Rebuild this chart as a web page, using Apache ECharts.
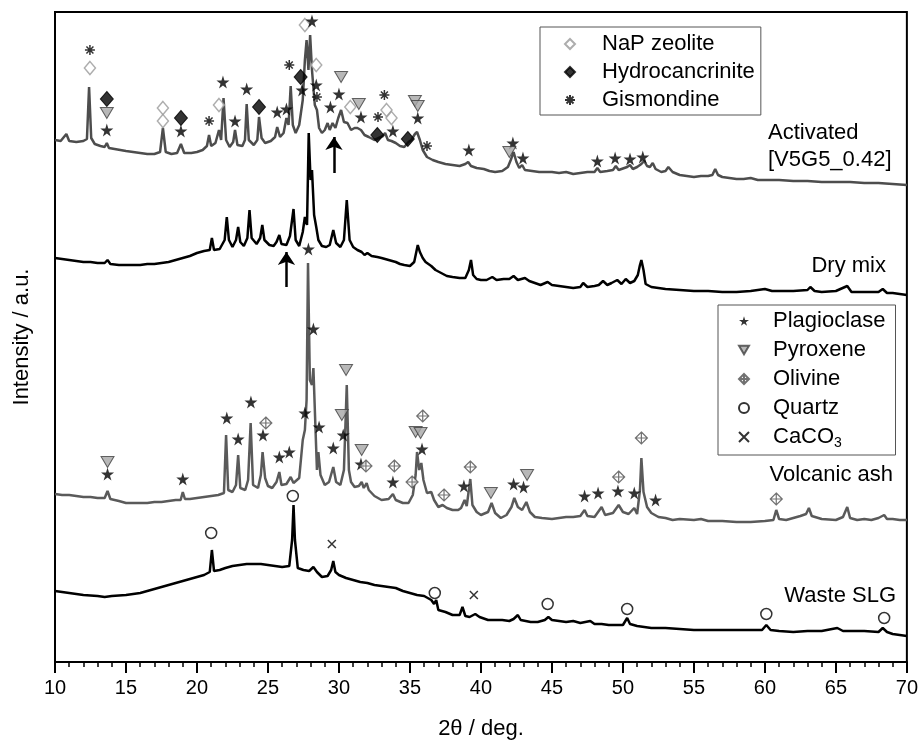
<!DOCTYPE html>
<html>
<head>
<meta charset="utf-8">
<script src="https://cdn.jsdelivr.net/npm/echarts@6/dist/echarts.min.js"></script>
<style>
  html, body { margin: 0; padding: 0; background: #fff; }
  #main { width: 921px; height: 748px; }
</style>
</head>
<body>
<div id="main"></div>
<script>
// XRD patterns, [2theta, intensity] (offset traces, arbitrary units)
var activated = [[10.0,522],[10.4,521],[10.8,528],[11.0,521],[11.5,520],[12.0,521],[12.25,523],[12.4,575],[12.55,524],[12.8,518],[13.2,516],[13.5,515],[13.65,519],[13.8,514],[14.2,513],[14.6,512],[15.0,511],[15.5,510],[16.0,509],[16.5,508],[17.0,508],[17.4,510],[17.6,534],[17.8,510],[18.2,508],[18.6,509],[18.87,518],[19.1,509],[19.6,509],[20.0,510],[20.4,512],[20.7,516],[20.85,527],[21.0,516],[21.3,519],[21.55,532],[21.7,522],[21.87,564],[22.05,522],[22.3,515],[22.55,520],[22.68,532],[22.85,517],[23.2,516],[23.38,522],[23.5,558],[23.65,522],[24.0,517],[24.25,522],[24.37,545],[24.55,524],[24.8,519],[25.2,521],[25.5,525],[25.65,535],[25.85,525],[26.1,529],[26.3,544],[26.45,537],[26.6,576],[26.75,537],[26.95,529],[27.2,537],[27.45,562],[27.6,602],[27.72,622],[27.85,592],[27.97,627],[28.1,592],[28.3,557],[28.45,552],[28.6,534],[28.8,529],[29.0,532],[29.2,539],[29.35,532],[29.55,539],[29.75,534],[29.95,544],[30.15,552],[30.35,540],[30.6,539],[30.85,532],[31.1,534],[31.3,534],[31.55,532],[31.8,527],[32.1,525],[32.5,522],[32.8,524],[33.1,526],[33.25,529],[33.45,522],[33.7,521],[34.0,519],[34.3,516],[34.6,515],[34.9,520],[35.1,522],[35.35,528],[35.5,530],[35.7,522],[35.9,512],[36.2,505],[36.6,502],[37.0,500],[37.5,498],[38.0,497],[38.5,496],[38.9,498],[39.1,500],[39.3,496],[39.7,494],[40.2,493],[40.6,491],[41.0,490],[41.5,491],[41.9,495],[42.1,502],[42.3,510],[42.5,500],[42.7,494],[42.9,497],[43.1,492],[43.6,491],[44.1,490],[44.6,490],[45.0,490],[45.5,489],[46.0,490],[46.5,488],[47.0,489],[47.5,490],[48.0,490],[48.2,494],[48.4,490],[48.9,491],[49.3,492],[49.5,496],[49.7,492],[50.1,494],[50.3,495],[50.5,497],[50.7,493],[51.0,495],[51.3,498],[51.5,501],[51.7,496],[51.9,495],[52.1,499],[52.3,493],[52.7,490],[53.0,491],[53.2,495],[53.5,490],[54.0,487],[54.5,486],[55.0,485],[55.5,486],[56.0,486],[56.3,487],[56.5,493],[56.7,487],[57.0,485],[57.5,484],[58.0,483],[58.5,483],[59.0,484],[59.5,482],[60.0,482],[61.0,482],[62.0,481],[63.0,481],[64.0,480],[65.0,480],[66.0,480],[67.0,479],[68.0,479],[69.0,478],[70.0,477]];

var dryMix = [[10.0,404],[10.5,403],[11.0,402],[11.5,401],[12.0,400],[12.5,400],[13.0,399],[13.5,399],[13.7,402],[13.9,398],[14.5,397],[15.0,397],[15.5,397],[16.0,397],[16.5,398],[17.0,398],[17.5,399],[18.0,400],[18.5,402],[19.0,404],[19.5,406],[20.0,409],[20.5,411],[20.9,412],[21.05,424],[21.2,412],[21.6,413],[21.95,422],[22.1,445],[22.25,422],[22.5,415],[22.75,422],[22.9,435],[23.05,420],[23.3,416],[23.55,424],[23.7,452],[23.85,424],[24.2,418],[24.45,424],[24.6,437],[24.75,422],[25.1,417],[25.4,416],[25.6,420],[25.8,427],[25.95,418],[26.3,417],[26.55,426],[26.8,453],[26.95,422],[27.2,416],[27.45,430],[27.6,445],[27.75,437],[27.87,529],[28.0,482],[28.1,492],[28.25,447],[28.4,435],[28.55,422],[28.8,416],[29.1,415],[29.35,417],[29.6,432],[29.8,419],[30.1,415],[30.35,422],[30.55,462],[30.75,422],[31.0,415],[31.3,412],[31.6,410],[31.8,407],[32.0,409],[32.3,406],[32.7,405],[33.0,404],[33.5,402],[34.0,400],[34.3,398],[34.6,397],[35.0,396],[35.3,400],[35.55,417],[35.7,410],[35.9,404],[36.1,400],[36.5,396],[36.8,392],[37.2,389],[37.6,386],[38.0,385],[38.5,384],[38.9,384],[39.15,392],[39.3,402],[39.45,387],[39.7,383],[40.0,382],[40.4,382],[40.8,385],[41.1,382],[41.6,383],[42.0,383],[42.3,386],[42.6,382],[43.1,384],[43.4,381],[43.8,379],[44.2,377],[44.7,380],[45.0,377],[45.5,376],[46.0,375],[46.5,374],[47.0,375],[47.2,379],[47.5,375],[48.0,376],[48.3,377],[48.6,381],[48.9,377],[49.2,379],[49.6,382],[49.9,378],[50.2,383],[50.5,379],[50.8,381],[51.05,387],[51.2,397],[51.3,402],[51.45,392],[51.6,378],[52.0,375],[52.5,374],[53.0,373],[54.0,372],[55.0,371],[56.0,371],[57.0,370],[58.0,370],[59.0,371],[60.0,373],[60.5,371],[61.0,371],[62.0,371],[63.0,372],[63.2,375],[63.5,371],[64.0,370],[65.0,371],[65.8,376],[66.1,370],[67.0,370],[68.0,370],[68.3,373],[68.6,369],[69.0,369],[70.0,367]];

var volcanicAsh = [[10.0,168],[10.5,167],[11.0,167],[11.5,166],[12.0,165],[12.5,165],[13.0,164],[13.5,164],[13.7,171],[13.9,163],[14.5,161],[15.0,159],[15.5,159],[16.0,159],[16.5,159],[17.0,160],[17.5,160],[18.0,161],[18.5,162],[18.85,162],[19.0,170],[19.15,163],[19.5,163],[20.0,164],[20.5,165],[21.0,166],[21.5,167],[21.9,169],[22.05,227],[22.2,172],[22.5,170],[22.75,177],[22.9,207],[23.05,174],[23.4,172],[23.6,182],[23.78,239],[23.95,177],[24.3,174],[24.5,187],[24.62,210],[24.8,184],[25.0,176],[25.3,174],[25.6,180],[25.8,190],[25.95,177],[26.3,178],[26.6,185],[26.8,179],[27.2,184],[27.45,222],[27.6,232],[27.72,262],[27.82,399],[27.95,282],[28.1,277],[28.2,294],[28.35,232],[28.45,192],[28.55,210],[28.7,187],[29.0,177],[29.3,180],[29.6,195],[29.8,180],[30.1,177],[30.35,192],[30.55,277],[30.7,192],[30.85,180],[31.1,175],[31.4,176],[31.6,180],[31.75,174],[31.95,179],[32.1,172],[32.5,166],[33.0,162],[33.5,163],[33.8,168],[34.0,162],[34.5,159],[34.9,159],[35.2,167],[35.4,187],[35.5,210],[35.65,192],[35.8,199],[35.95,182],[36.2,169],[36.5,170],[36.7,162],[37.0,155],[37.3,157],[37.6,154],[38.0,152],[38.4,152],[38.6,154],[38.85,162],[39.0,156],[39.25,183],[39.4,157],[39.7,150],[40.0,147],[40.5,150],[40.75,159],[41.0,149],[41.4,144],[41.8,147],[42.15,155],[42.35,164],[42.6,155],[42.9,152],[43.2,160],[43.45,150],[43.8,145],[44.3,144],[45.0,143],[45.5,144],[46.0,145],[46.5,145],[47.0,146],[47.3,152],[47.5,146],[48.0,145],[48.5,155],[48.75,147],[49.3,149],[49.7,157],[50.0,150],[50.4,148],[50.8,154],[51.0,148],[51.2,172],[51.3,204],[51.45,170],[51.7,155],[52.0,149],[52.5,145],[53.0,144],[53.5,142],[54.0,143],[55.0,142],[55.5,143],[56.0,141],[57.0,141],[58.0,140],[59.0,140],[60.0,141],[60.6,142],[60.8,152],[61.0,143],[61.5,142],[62.0,144],[62.5,146],[62.9,148],[63.1,154],[63.3,146],[64.0,143],[65.0,142],[65.5,145],[65.8,155],[66.0,144],[66.5,142],[67.0,143],[67.5,142],[68.0,144],[68.4,147],[68.6,143],[69.0,143],[69.5,142],[70.0,142]];

var wasteSLG = [[10.0,71],[11.0,69],[12.0,67],[13.0,66],[13.5,65],[14.0,66],[15.0,67],[16.0,69],[17.0,73],[18.0,77],[19.0,81],[20.0,85],[20.5,87],[20.9,90],[21.05,112],[21.2,91],[21.6,92],[22.0,94],[22.5,96],[23.0,97],[23.5,98],[24.0,98],[24.5,98],[25.0,97],[25.5,96],[26.0,95],[26.5,96],[26.7,122],[26.8,157],[26.9,122],[27.1,94],[27.5,92],[27.9,91],[28.2,95],[28.45,90],[28.8,85],[29.2,86],[29.45,92],[29.6,101],[29.75,90],[30.0,87],[30.5,84],[31.0,82],[31.5,80],[32.0,79],[32.5,77],[33.0,76],[33.5,75],[34.0,74],[34.5,71],[35.0,69],[35.5,67],[36.0,66],[36.5,62],[36.7,58],[36.85,62],[37.0,52],[37.5,50],[38.0,47],[38.5,47],[38.7,55],[38.9,46],[39.2,45],[39.6,48],[39.9,45],[40.5,42],[41.0,42],[41.5,42],[42.0,41],[42.3,43],[42.6,47],[42.8,42],[43.5,40],[44.0,40],[44.5,42],[44.75,45],[45.0,42],[45.5,41],[46.0,40],[46.5,41],[47.0,39],[47.7,41],[48.0,38],[48.5,38],[49.0,37],[49.5,37],[50.0,37],[50.3,44],[50.5,38],[51.0,36],[52.0,34],[53.0,34],[54.0,33],[55.0,32],[56.0,32],[57.0,32],[58.0,32],[59.0,32],[59.8,32],[60.1,37],[60.4,32],[61.0,31],[62.0,30],[63.0,31],[64.0,31],[65.1,34],[65.5,31],[66.0,31],[67.0,31],[68.0,30],[68.3,34],[68.6,30],[69.0,28],[69.5,27],[70.0,26]];

// phase markers, [2theta, height]
var napZeolite = [[12.46,594],[17.6,554],[17.6,541],[21.55,557],[27.6,637],[28.4,597],[30.8,555],[33.35,552],[33.7,544]];
var hydrocancrinite = [[13.65,563],[18.87,544],[24.37,555],[27.3,585],[32.7,527],[34.85,523]];
var gismondine = [[12.46,612],[20.85,541],[26.5,597],[28.45,565],[32.75,545],[33.2,567],[36.2,516]];
var plagioclaseAct = [[13.65,532],[18.87,531],[21.83,580],[22.68,541],[23.5,573],[25.65,550],[26.3,553],[27.4,572],[28.1,641],[28.4,577],[29.4,555],[30.0,568],[31.55,545],[33.8,531],[35.55,544],[39.15,512],[42.25,519],[42.96,504],[48.2,501],[49.45,504],[50.5,503],[51.4,505]];
var plagioclaseAsh = [[13.7,188],[19.0,183],[22.1,244],[22.9,223],[23.8,260],[24.65,227],[25.8,205],[26.5,210],[27.6,249],[27.85,413],[28.2,333],[28.6,235],[29.6,214],[30.3,227],[31.55,198],[33.8,180],[35.85,213],[38.8,176],[42.3,178],[43.0,175],[47.3,166],[48.25,169],[49.65,171],[50.8,169],[52.3,162]];
var pyroxeneAct = [[13.65,549],[30.15,585],[31.4,558],[35.35,561],[35.55,556],[42.0,510]];
var pyroxeneAsh = [[13.7,200],[30.5,292],[30.2,247],[31.6,212],[35.4,230],[35.75,229],[40.7,169],[43.25,187]];
var olivine = [[24.85,239],[31.9,196],[33.9,196],[35.15,180],[35.9,246],[37.4,167],[39.25,195],[49.7,185],[51.3,224],[60.8,163]];
var quartz = [[21.0,129],[26.75,166],[36.75,69],[44.7,58],[50.3,53],[60.1,48],[68.4,44]];
var caco3 = [[29.5,118],[39.5,67]];

var arrows = [[[29.65,489],[29.65,525]], [[26.3,375],[26.3,410]]];

var FONT = '"Liberation Sans", Arial, sans-serif';
var STAR = 'path://M50,0 L61,35 L98,35 L68,57 L79,91 L50,70 L21,91 L32,57 L2,35 L39,35 Z';
var ASTER = 'path://M50,0 L50,100 M0,50 L100,50 M15,15 L85,85 M85,15 L15,85';
var OLIV = 'path://M50,0 L100,50 L50,100 L0,50 Z M50,0 L50,100 M0,50 L100,50';
var CROSS = 'path://M0,0 L100,100 M100,0 L0,100';
var DOWNTRI = 'path://M0,0 L100,0 L50,87 Z';

var myChart = echarts.init(document.getElementById('main'));

function trace(name, data, color) {
    return {
        name: name, type: 'line', data: data, symbol: 'none', z: 2,
        lineStyle: { color: color, width: 2.5 }
    };
}
function marks(name, data, symbol, size, style) {
    return {
        name: name, type: 'scatter', data: data, symbol: symbol, symbolSize: size,
        z: 4, itemStyle: style
    };
}

var option = {
    animation: false,
    grid: { left: 55, right: 14, top: 12, bottom: 86, show: true, borderColor: '#000', borderWidth: 2 },
    legend: [
        {
            data: ['NaP zeolite', 'Hydrocancrinite', 'Gismondine'],
            orient: 'vertical', left: 540, top: 27,
            selectedMode: false,
            borderColor: '#555', borderWidth: 1,
            padding: [5, 6, 3, 24], itemGap: 4, itemWidth: 10, itemHeight: 10,
            textStyle: { fontFamily: FONT, fontSize: 22, color: '#000', lineHeight: 24, padding: [0, 0, 0, 22] }
        },
        {
            data: ['Plagioclase', 'Pyroxene', 'Olivine', 'Quartz', 'CaCO3'],
            orient: 'vertical', left: 718, top: 305,
            selectedMode: false,
            borderColor: '#555', borderWidth: 1,
            padding: [4, 10, 5, 20], itemGap: 5, itemWidth: 10, itemHeight: 10,
            formatter: function (name) {
                return name === 'CaCO3' ? 'CaCO{sub|3}' : name;
            },
            textStyle: {
                fontFamily: FONT, fontSize: 22, color: '#000', lineHeight: 24, padding: [0, 0, 0, 19],
                rich: { sub: { fontFamily: FONT, fontSize: 14, color: '#000', padding: [12, 0, 0, 0] } }
            }
        }
    ],
    xAxis: {
        type: 'value', min: 10, max: 70, interval: 5,
        name: '2θ / deg.', nameLocation: 'middle', nameGap: 56,
        nameTextStyle: { fontFamily: FONT, fontSize: 22, color: '#000' },
        axisLine: { lineStyle: { color: '#000', width: 2 } },
        axisTick: { length: 11, lineStyle: { color: '#000', width: 2 } },
        minorTick: { show: true, splitNumber: 5, length: 5, lineStyle: { color: '#000', width: 1.5 } },
        axisLabel: { fontFamily: FONT, fontSize: 20, color: '#000', margin: 16 },
        splitLine: { show: false }
    },
    yAxis: {
        type: 'value', min: 0, max: 650,
        name: 'Intensity / a.u.', nameLocation: 'middle', nameGap: 22,
        nameTextStyle: { fontFamily: FONT, fontSize: 22, color: '#000' },
        axisLine: { show: true, lineStyle: { color: '#000', width: 2 } },
        axisTick: { show: false }, axisLabel: { show: false },
        splitLine: { show: false }
    },
    graphic: [
        { type: 'text', left: 768, top: 122, style: { text: 'Activated', font: '22px ' + FONT, fill: '#000' } },
        { type: 'text', left: 768, top: 149, style: { text: '[V5G5_0.42]', font: '22px ' + FONT, fill: '#000' } },
        { type: 'text', right: 35, top: 255, style: { text: 'Dry mix', font: '22px ' + FONT, fill: '#000' } },
        { type: 'text', right: 28, top: 464, style: { text: 'Volcanic ash', font: '22px ' + FONT, fill: '#000' } },
        { type: 'text', right: 25, top: 585, style: { text: 'Waste SLG', font: '22px ' + FONT, fill: '#000' } }
    ],
    series: [
        trace('Activated', activated, '#4d4d4d'),
        trace('Dry mix', dryMix, '#000'),
        trace('Volcanic ash', volcanicAsh, '#5a5a5a'),
        trace('Waste SLG', wasteSLG, '#000'),
        {
            type: 'lines', coordinateSystem: 'cartesian2d', z: 5,
            symbol: ['none', 'arrow'], symbolSize: 13,
            lineStyle: { color: '#000', width: 2.5, opacity: 1 },
            data: arrows.map(function (c) { return { coords: c }; })
        },
        marks('NaP zeolite', napZeolite, 'diamond', [11, 13], { color: '#fff', borderColor: '#999', borderWidth: 1.5 }),
        marks('Hydrocancrinite', hydrocancrinite, 'diamond', [13, 15], { color: '#000', borderColor: '#000', borderWidth: 1 }),
        marks('Gismondine', gismondine, ASTER, 10, { color: '#000', borderColor: '#000', borderWidth: 1.5 }),
        marks('Plagioclase', plagioclaseAct.concat(plagioclaseAsh), STAR, 13, { color: '#000' }),
        marks('Pyroxene', pyroxeneAct.concat(pyroxeneAsh), DOWNTRI, [13, 11], { color: '#a6a6a6', borderColor: '#404040', borderWidth: 1 }),
        marks('Olivine', olivine, OLIV, 12, { color: '#fff', borderColor: '#4d4d4d', borderWidth: 1.2 }),
        marks('Quartz', quartz, 'circle', 11, { color: '#fff', borderColor: '#000', borderWidth: 1.5 }),
        marks('CaCO3', caco3, CROSS, 8, { color: '#000', borderColor: '#000', borderWidth: 1.5 })
    ]
};
myChart.setOption(option);
</script>
</body>
</html>
